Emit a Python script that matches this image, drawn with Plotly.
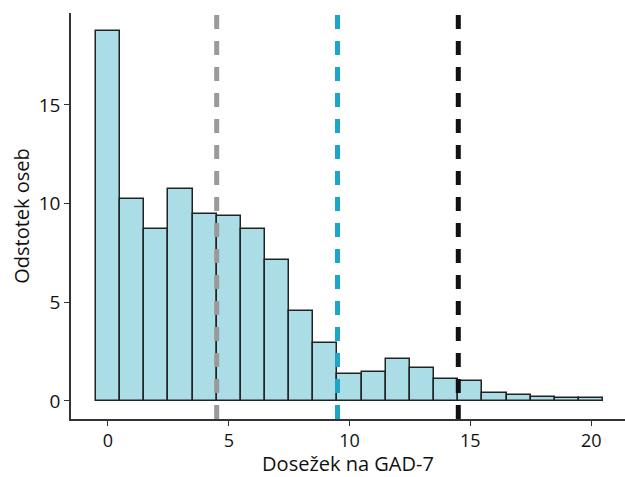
import plotly.graph_objects as go

scores = list(range(21))
percent = [18.75, 10.22, 8.71, 10.75, 9.46, 9.37, 8.71, 7.13, 4.58, 2.93,
           1.35, 1.44, 2.1, 1.68, 1.1, 1.0, 0.38, 0.28, 0.2, 0.15, 0.15]
cutoffs = [4.5, 9.5, 14.5]
cutoff_colors = ["#9a9a9a", "#1ba6c9", "#111111"]

fig = go.Figure()
fig.add_trace(go.Bar(
    x=scores, y=percent, width=1,
    marker=dict(color="#aadde6", line=dict(color="#222222", width=1.5)),
    showlegend=False,
))

for c, col in zip(cutoffs, cutoff_colors):
    fig.add_shape(type="line", x0=c, x1=c, xref="x", y0=0, y1=1, yref="paper",
                  line=dict(color=col, width=5, dash="14px,12px"), layer="above")

font = "Open Sans, Lato, sans-serif"
fig.update_layout(
    width=625, height=477,
    margin=dict(l=71, r=0, t=13, b=58),
    paper_bgcolor="white", plot_bgcolor="white",
    font=dict(family=font, size=20, color="#111111"),
    bargap=0,
    xaxis=dict(range=[-1.53, 21.4], tickvals=[0, 5, 10, 15, 20],
               showline=True, linecolor="#333333", linewidth=1.5,
               ticks="outside", ticklen=5, tickcolor="#333333",
               showgrid=False, zeroline=False, automargin=False,
               tickfont=dict(size=18),
               title=dict(text="Dosežek na GAD-7", standoff=3,
                          font=dict(size=20))),
    yaxis=dict(range=[-0.92, 19.66], tickvals=[0, 5, 10, 15],
               showline=True, linecolor="#333333", linewidth=1.5,
               ticks="outside", ticklen=5, tickcolor="#333333",
               showgrid=False, zeroline=False, automargin=False,
               tickfont=dict(size=19),
               title=dict(text="Odstotek oseb", standoff=4, font=dict(size=20))),
)

fig.write_html(
    "out.html",
    config={"displayModeBar": False},
    post_script="document.body.style.margin='0';document.body.style.overflow='hidden';",
)
